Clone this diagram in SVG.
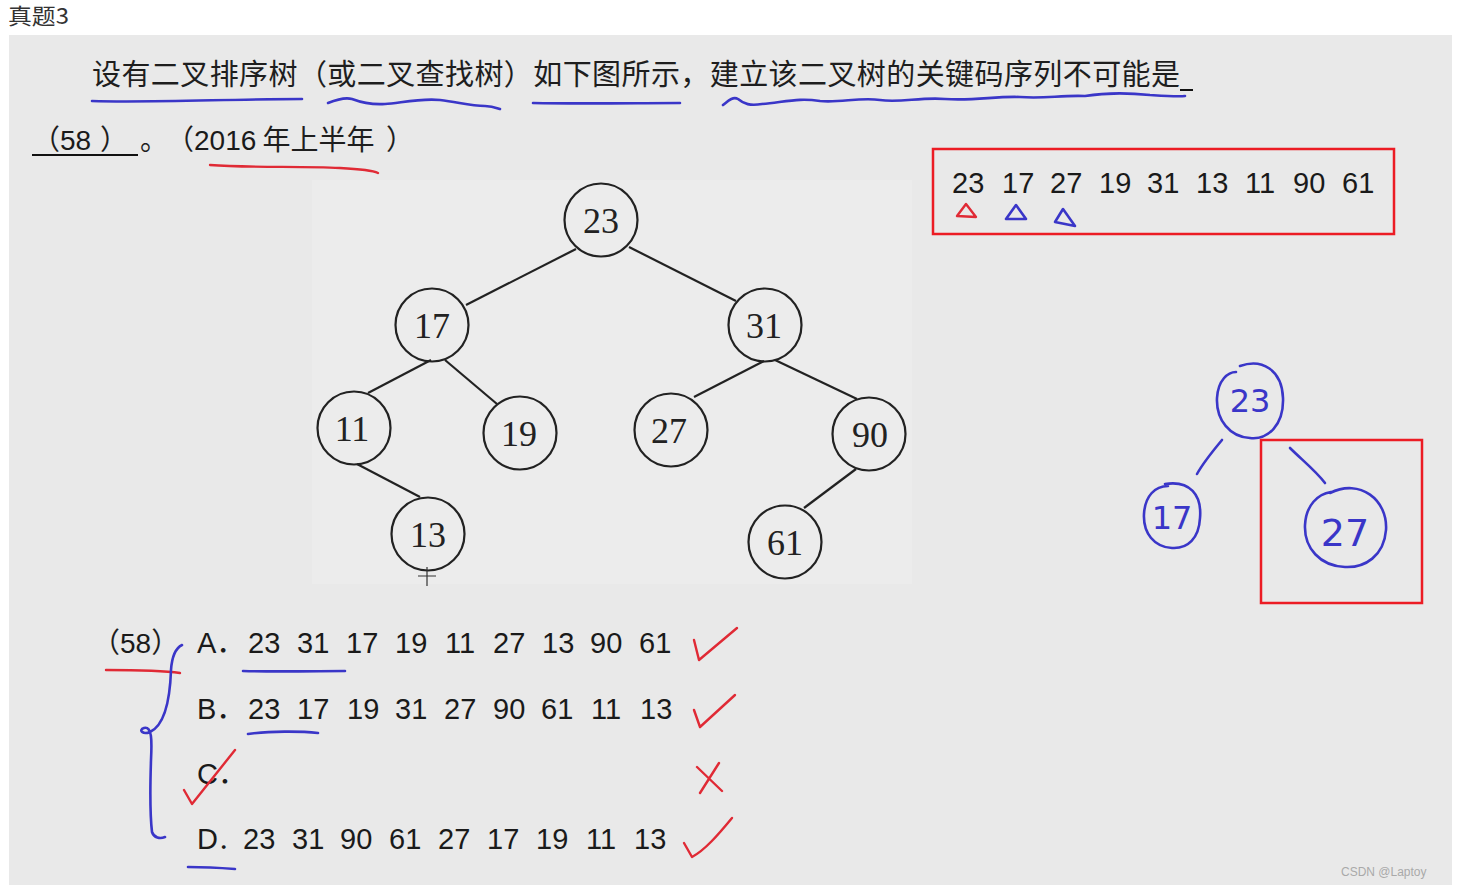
<svg xmlns="http://www.w3.org/2000/svg" width="1461" height="890" viewBox="0 0 1461 890">
<style>
.cjk{font-family:"Noto Sans CJK SC","Noto Sans",sans-serif;fill:#1e1e1e}
.num{font-family:"Liberation Sans","Noto Sans CJK SC",sans-serif;fill:#1a1a1a}
.node circle{fill:none;stroke:#222;stroke-width:2.2}
.node text{font-family:"Liberation Serif",serif;font-size:36px;fill:#222;text-anchor:middle}
.edge{stroke:#222;stroke-width:2.2;fill:none}
.blue{stroke:#3a36c8;stroke-width:2.6;fill:none;stroke-linecap:round;stroke-linejoin:round}
.red{stroke:#e02a35;stroke-width:2.4;fill:none;stroke-linecap:round;stroke-linejoin:round}
.box{stroke:#ec1c24;stroke-width:2.5;fill:none}
.hand{font-family:"DejaVu Sans",sans-serif;fill:#3a36c8;text-anchor:middle}
</style>
<rect x="0" y="0" width="1461" height="890" fill="#ffffff"/>
<text x="8" y="24" font-family="Noto Sans CJK SC, sans-serif" font-size="22" fill="#333" textLength="61" lengthAdjust="spacingAndGlyphs">真题3</text>
<rect x="9" y="35" width="1443" height="850" fill="#e9e9e9"/>
<rect x="312" y="180" width="600" height="404" fill="#ececec"/>

<!-- question text -->
<text class="cjk" x="92" y="85" font-size="29" textLength="1088" lengthAdjust="spacing">设有二叉排序树（或二叉查找树）如下图所示，建立该二叉树的关键码序列不可能是</text>
<line x1="1180" y1="90" x2="1193" y2="90" stroke="#111" stroke-width="2"/>
<text class="cjk" x="32" y="150" font-size="28">（<tspan class="num">58</tspan><tspan x="100">）</tspan></text>
<line x1="32" y1="155" x2="138" y2="155" stroke="#111" stroke-width="2"/>
<text class="cjk" x="140" y="150" font-size="28">。</text>
<text class="cjk" x="166" y="150" font-size="28">（<tspan class="num">2016</tspan> 年上半年<tspan x="386">）</tspan></text>

<!-- hand underlines -->
<path class="blue" d="M92,101 C150,103 230,99 302,99"/>
<path class="blue" d="M328,103 C338,99 345,97 352,99 C360,102 370,105 385,104 C400,103 420,98 440,100 C458,102 470,106 485,106 C492,106 497,108 500,109"/>
<path class="blue" d="M533,103 C580,104 640,103 680,103"/>
<path class="blue" d="M723,105 C728,101 733,96 738,99 C744,104 750,106 762,104 C790,101 800,98 820,101 C840,103 860,97 880,100 C900,103 920,97 945,99 C975,101 995,96 1020,97 C1045,99 1060,95 1085,96 C1110,92 1130,93 1150,95 C1165,96 1178,97 1185,96"/>
<path class="red" d="M210,165 C250,168 300,166 340,168 C360,169 372,170 378,173"/>

<!-- sequence box -->
<rect class="box" x="933" y="149" width="461" height="85"/>
<g class="num" font-size="29">
<text x="952" y="193">23</text><text x="1002" y="193">17</text><text x="1050" y="193">27</text>
<text x="1099" y="193">19</text><text x="1147" y="193">31</text><text x="1196" y="193">13</text>
<text x="1245" y="193">11</text><text x="1293" y="193">90</text><text x="1342" y="193">61</text>
</g>
<path class="red" d="M966,204 L957,216 L976,217 Z"/>
<path class="blue" d="M1016,205 L1006,219 L1026,219 Z"/>
<path class="blue" d="M1063,209 L1055,222 L1075,226 Z"/>

<!-- tree connectors -->
<g id="connectors">
<line class="edge" x1="576" y1="249" x2="466" y2="305"/>
<line class="edge" x1="629" y1="247" x2="736" y2="301"/>
<line class="edge" x1="431" y1="360" x2="368" y2="393"/>
<line class="edge" x1="445" y1="360" x2="497" y2="404"/>
<line class="edge" x1="357" y1="464" x2="420" y2="497"/>
<line class="edge" x1="764" y1="361" x2="694" y2="397"/>
<line class="edge" x1="775" y1="360" x2="857" y2="399"/>
<line class="edge" x1="856" y1="469" x2="804" y2="508"/>
<path class="blue" d="M1222,440 C1212,452 1203,463 1197,474"/>
<path class="blue" d="M1290,448 C1302,460 1315,470 1325,483"/>
</g>

<!-- tree nodes -->
<g id="n23" class="node"><circle cx="601" cy="220" r="36.5"/><text x="601" y="233">23</text></g>
<g id="n17" class="node"><circle cx="432" cy="325" r="36.5"/><text x="432" y="338">17</text></g>
<g id="n31" class="node"><circle cx="765" cy="325" r="36.5"/><text x="764" y="338">31</text></g>
<g id="n11" class="node"><circle cx="354" cy="428" r="36.5"/><text x="352" y="441">11</text></g>
<g id="n19" class="node"><circle cx="520" cy="433" r="36.5"/><text x="519" y="446">19</text></g>
<g id="n27" class="node"><circle cx="671" cy="430" r="36.5"/><text x="669" y="443">27</text></g>
<g id="n90" class="node"><circle cx="869" cy="434" r="36.5"/><text x="870" y="447">90</text></g>
<g id="n13" class="node"><circle cx="428" cy="534" r="36.5"/><text x="428" y="547">13</text></g>
<g id="n61" class="node"><circle cx="785" cy="542" r="36.5"/><text x="785" y="555">61</text></g>
<path d="M418,576 H436 M427,567 V586" stroke="#333" stroke-width="1.2" fill="none"/>

<!-- handwritten tree -->
<g id="h23"><path class="blue" d="M1240,366 C1262,358 1282,370 1283,398 C1284,425 1268,440 1250,438 C1230,437 1216,420 1217,398 C1218,380 1228,372 1236,372"/><text class="hand" x="1250" y="412" font-size="32">23</text></g>
<g id="h17"><path class="blue" d="M1165,484 C1190,480 1202,495 1200,518 C1199,538 1188,549 1172,548 C1154,547 1143,533 1144,514 C1145,496 1155,486 1168,486"/><text class="hand" x="1172" y="529" font-size="32">17</text></g>
<g id="h27"><path class="blue" d="M1330,493 C1360,478 1388,500 1386,530 C1384,556 1365,568 1345,567 C1320,566 1304,548 1305,525 C1306,505 1318,494 1331,492"/><text class="hand" x="1345" y="546" font-size="38">27</text></g>
<rect class="box" x="1261" y="440" width="161" height="163"/>

<!-- options -->
<text class="cjk" x="92" y="653" font-size="28">（<tspan class="num">58</tspan>）</text>
<path class="red" d="M106,670 C130,670 160,670 180,673"/>
<path class="blue" d="M182,645 C176,648 172,655 171,670 C170,700 165,725 150,732 C143,735 138,730 144,728 C152,726 152,740 151,760 C150,790 150,815 152,832 C154,838 160,839 165,837"/>
<g class="num" font-size="29">
<text x="197" y="653">A．</text>
<text x="248" y="653">23</text><text x="297" y="653">31</text><text x="346" y="653">17</text><text x="395" y="653">19</text><text x="445" y="653">11</text><text x="493" y="653">27</text><text x="542" y="653">13</text><text x="590" y="653">90</text><text x="639" y="653">61</text>
<text x="197" y="719">B．</text>
<text x="248" y="719">23</text><text x="297" y="719">17</text><text x="347" y="719">19</text><text x="395" y="719">31</text><text x="444" y="719">27</text><text x="493" y="719">90</text><text x="541" y="719">61</text><text x="591" y="719">11</text><text x="640" y="719">13</text>
<text x="197" y="784">C．</text>
<text x="197" y="849">D<tspan x="218" font-size="24">．</tspan></text>
<text x="243" y="849">23</text><text x="292" y="849">31</text><text x="340" y="849">90</text><text x="389" y="849">61</text><text x="438" y="849">27</text><text x="487" y="849">17</text><text x="536" y="849">19</text><text x="586" y="849">11</text><text x="634" y="849">13</text>
</g>
<path class="blue" d="M243,671 C280,672 320,671 345,671"/>
<path class="blue" d="M248,734 C270,731 300,731 318,733"/>
<path class="blue" d="M188,867 C205,867 222,868 235,869"/>
<path class="red" d="M184,790 L192,804 L235,750"/>
<path class="red" d="M694,640 L699,660 L737,628"/>
<path class="red" d="M694,710 L700,727 L735,695"/>
<path class="red" d="M697,767 L722,791 M719,763 L700,793"/>
<path class="red" d="M684,843 L692,857 C705,850 718,835 732,818"/>

<text x="1341" y="876" font-family="Liberation Sans, sans-serif" font-size="12" fill="#a9a9a9">CSDN @Laptoy</text>
</svg>
